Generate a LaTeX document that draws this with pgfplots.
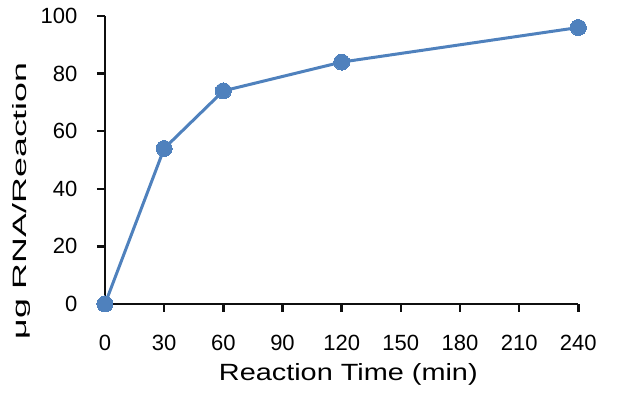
\documentclass[border=0pt]{standalone}
\usepackage{fontspec}
\setmainfont{Liberation Sans}
\usepackage{pgfplots}
\pgfplotsset{compat=1.18}
\definecolor{xlblue}{RGB}{79,129,189}
\definecolor{axcol}{RGB}{15,15,15}
\begin{document}
\begin{tikzpicture}
\path[use as bounding box] (-78.75pt,-68.25pt) rectangle (386.25pt,228pt);
\begin{axis}[
  at={(0,0)}, anchor=origin,
  scale only axis,
  width=355pt, height=216pt,
  xmin=0, xmax=240, ymin=0, ymax=100,
  axis lines=left,
  axis line style={axcol, line width=1.8pt, -},
  xtick={0,30,...,240}, ytick={0,20,...,100},
  tick align=outside, major tick length=6pt,
  major tick style={axcol, line width=1.8pt},
  /pgf/number format/assume math mode=true,
  tick label style={font=\fontsize{16.5pt}{18pt}\selectfont},
  xticklabel style={inner sep=0pt, anchor=north, yshift=-17.5pt},
  yticklabel style={inner sep=0pt, anchor=east, xshift=-14.5pt},
  xlabel={\scalebox{1.23}[1]{Reaction Time (min)}},
  xlabel style={font=\fontsize{17.6pt}{20pt}\selectfont, at={(axis description cs:0.514,-0.267)}, anchor=base, inner sep=0pt},
  ylabel={\scalebox{1.85}[1]{μg RNA/Reaction}},
  ylabel style={font=\fontsize{14.5pt}{16pt}\selectfont, at={(axis description cs:-0.165,0.358)}, anchor=base, inner sep=0pt},
  clip=false,
]
\draw[axcol, line width=1.8pt] (axis cs:0,100) -- (axis cs:0,0) -- (axis cs:240,0);
\addplot[color=xlblue, line width=2.25pt, mark=*, mark size=6pt, mark options={fill=xlblue, draw=xlblue, line width=0pt}]
  coordinates {(0,0) (30,54) (60,74) (120,84) (240,96)};
\end{axis}
\end{tikzpicture}
\end{document}
